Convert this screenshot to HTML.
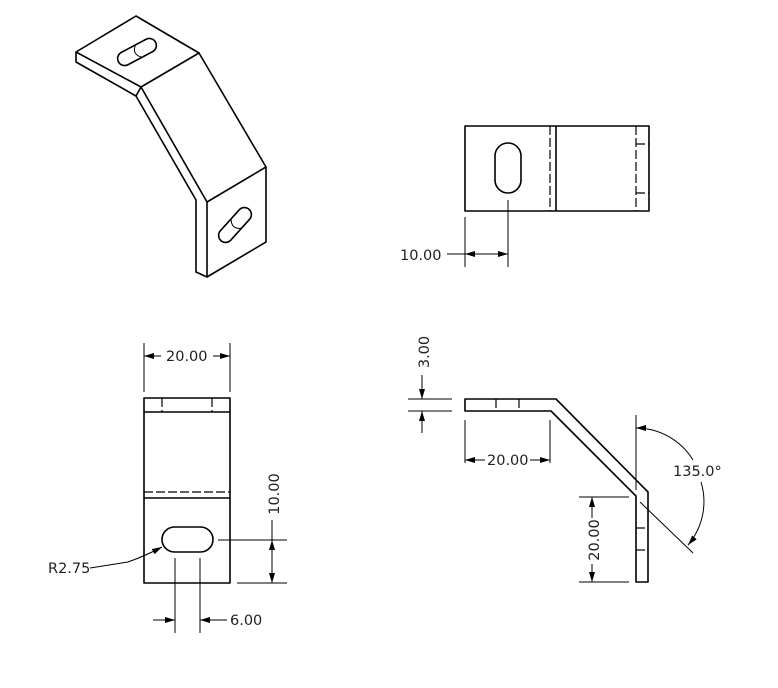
<!DOCTYPE html>
<html><head><meta charset="utf-8"><style>
html,body{margin:0;padding:0;background:#fff;}
svg{display:block;}
text{font-family:"DejaVu Sans","Liberation Sans",sans-serif;font-size:14.5px;fill:#222;}
</style></head><body>
<svg width="778" height="688" viewBox="0 0 778 688" xmlns="http://www.w3.org/2000/svg">
<defs>
<marker id="a" viewBox="0 0 10 6" refX="10" refY="3" markerWidth="10" markerHeight="6" orient="auto-start-reverse" markerUnits="userSpaceOnUse"><path d="M0,0 L10,3 L0,6 Z" fill="#000"/></marker>
</defs>
<g fill="none" stroke="#000" stroke-width="1.6" stroke-linejoin="round">
<path d="M76,52 L136,16 L199,53 L141,87 Z"/>
<path d="M76,52 L76,62 L136,96 L141,87"/>
<path d="M141,87 L207,202 L266,167 L199,53"/>
<path d="M136,96 L196,200 L196,272 L207,277 L207,202"/>
<path d="M266,167 L266,242 L207,277"/>
<g transform="translate(137,52) rotate(-28)"><rect x="-21" y="-7" width="42" height="14" rx="7"/><path d="M2,-7 Q-6,0 2,7" stroke-width="1"/></g>
<g transform="translate(235,225) rotate(-48)"><rect x="-21" y="-7" width="42" height="14" rx="7"/><path d="M2,-7 Q-6,0 2,7" stroke-width="1"/></g>
<rect x="465" y="126" width="184" height="85"/>
<line x1="556" y1="126" x2="556" y2="211"/>
<rect x="495" y="143" width="26" height="50" rx="13"/>
</g>
<g fill="none" stroke="#000" stroke-width="1.2" stroke-dasharray="9,3">
<line x1="550" y1="126" x2="550" y2="211"/>
<line x1="636" y1="126" x2="636" y2="211"/>
<line x1="636" y1="144" x2="649" y2="144"/>
<line x1="636" y1="193" x2="649" y2="193"/>
<line x1="162" y1="398" x2="162" y2="412"/>
<line x1="212" y1="398" x2="212" y2="412"/>
<line x1="144" y1="492" x2="230" y2="492"/>
<line x1="496" y1="399" x2="496" y2="411"/>
<line x1="519" y1="399" x2="519" y2="411"/>
<line x1="636" y1="528" x2="648" y2="528"/>
<line x1="636" y1="550" x2="648" y2="550"/>
</g>
<g fill="none" stroke="#000" stroke-width="1">
<line x1="465" y1="217" x2="465" y2="267"/>
<line x1="508" y1="200" x2="508" y2="267"/>
<line x1="447" y1="254" x2="465" y2="254"/>
<line x1="465" y1="254" x2="508" y2="254" marker-start="url(#a)" marker-end="url(#a)"/>
<line x1="144" y1="343" x2="144" y2="392"/>
<line x1="230" y1="343" x2="230" y2="392"/>
<line x1="144" y1="356" x2="161" y2="356" marker-start="url(#a)"/>
<line x1="213" y1="356" x2="230" y2="356" marker-end="url(#a)"/>
<line x1="218" y1="540" x2="287" y2="540"/>
<line x1="237" y1="583" x2="287" y2="583"/>
<line x1="272" y1="540" x2="272" y2="583" marker-start="url(#a)" marker-end="url(#a)"/>
<line x1="272" y1="520" x2="272" y2="540"/>
<line x1="175" y1="558" x2="175" y2="633"/>
<line x1="200" y1="558" x2="200" y2="633"/>
<line x1="153" y1="620" x2="175" y2="620" marker-end="url(#a)"/>
<line x1="227" y1="620" x2="200" y2="620" marker-end="url(#a)"/>
<path d="M90,568 L128,562 Q145,556 162,547" marker-end="url(#a)"/>
<line x1="408" y1="399" x2="452" y2="399"/>
<line x1="408" y1="411" x2="452" y2="411"/>
<line x1="422" y1="375" x2="422" y2="399" marker-end="url(#a)"/>
<line x1="422" y1="433" x2="422" y2="411" marker-end="url(#a)"/>
<line x1="465" y1="420" x2="465" y2="463"/>
<line x1="550" y1="420" x2="550" y2="463"/>
<line x1="465" y1="460" x2="485" y2="460" marker-start="url(#a)"/>
<line x1="530" y1="460" x2="550" y2="460" marker-end="url(#a)"/>
<line x1="579" y1="497" x2="629" y2="497"/>
<line x1="579" y1="582" x2="629" y2="582"/>
<line x1="592" y1="497" x2="592" y2="518" marker-start="url(#a)"/>
<line x1="592" y1="564" x2="592" y2="582" marker-end="url(#a)"/>
<line x1="636" y1="415" x2="636" y2="490"/>
<line x1="640" y1="502" x2="693" y2="553"/>
<path d="M636,428 A67,67 0 0 1 693,460" marker-start="url(#a)"/>
<path d="M701,482 A67,67 0 0 1 688,545" marker-end="url(#a)"/>
</g>
<g fill="none" stroke="#000" stroke-width="1.6" stroke-linejoin="round">
<rect x="144" y="398" width="86" height="185"/>
<line x1="144" y1="412" x2="230" y2="412"/>
<line x1="144" y1="498" x2="230" y2="498"/>
<rect x="162" y="527" width="51" height="25" rx="12.5"/>
<path d="M465,399 L556,399 L648,492 L648,582 L636,582 L636,496 L551,411 L465,411 Z"/>
</g>
<text x="400" y="260">10.00</text>
<text x="166" y="361">20.00</text>
<text x="279" y="494" transform="rotate(-90 279 494)" text-anchor="middle">10.00</text>
<text x="230" y="625">6.00</text>
<text x="48" y="573">R2.75</text>
<text x="429" y="352" transform="rotate(-90 429 352)" text-anchor="middle">3.00</text>
<text x="487" y="465">20.00</text>
<text x="599" y="540" transform="rotate(-90 599 540)" text-anchor="middle">20.00</text>
<text x="673" y="476">135.0°</text>
</svg>
</body></html>
